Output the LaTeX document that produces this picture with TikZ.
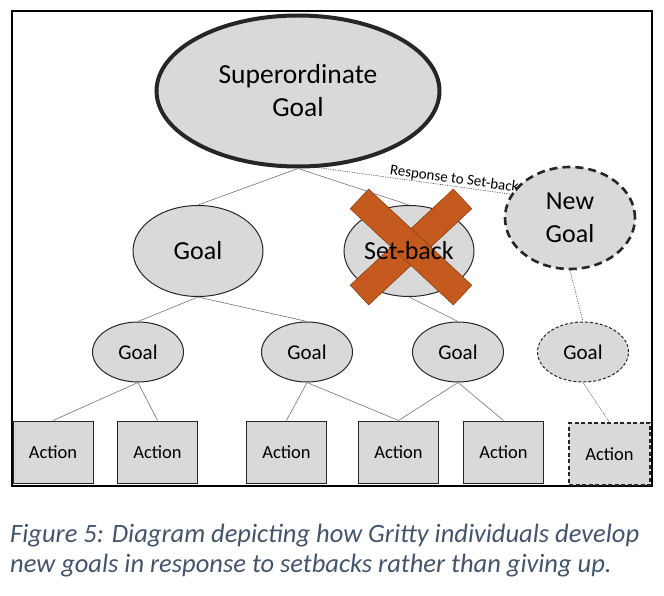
\documentclass[tikz,border=0pt]{standalone}
\usepackage{fontspec}
\setmainfont{Carlito}
\usetikzlibrary{shapes.geometric}
\definecolor{shapefill}{HTML}{D9D9D9}
\definecolor{crossfill}{HTML}{C55A1E}
\definecolor{crossedge}{HTML}{8E4014}
\definecolor{captext}{HTML}{44546A}
\tikzset{
  goal/.style={ellipse,draw=black!85,fill=shapefill,line width=1pt,inner sep=0pt},
  biggoal/.style={goal,minimum width=130,minimum height=91,font=\fontsize{26}{33}\selectfont},
  smallgoal/.style={goal,minimum width=91,minimum height=60,font=\fontsize{21}{24}\selectfont},
  newgoalstyle/.style={goal,line width=2.6pt,dash pattern=on 8pt off 5pt},
  ghostgoal/.style={smallgoal,dash pattern=on 3pt off 2pt},
  act/.style={rectangle,draw=black!85,fill=shapefill,line width=1pt,
    minimum width=80,minimum height=62,inner sep=0pt,font=\fontsize{18.5}{20}\selectfont},
  link/.style={draw=black!55,line width=0.6pt},
  dotlink/.style={draw=black!70,line width=0.6pt,dash pattern=on 1.2pt off 1.2pt},
  crossbar/.style={fill=crossfill,draw=crossedge,line width=0.6pt}
}
\begin{document}
\begin{tikzpicture}[x=1pt,y=-1pt]
  \useasboundingbox (0,0) rectangle (664,596);
  \draw[line width=1.5pt] (12,11) rectangle (652,486);
  % top goal
  \node[goal,line width=4pt,minimum width=283,minimum height=151,align=center,
    font=\fontsize{27.5}{33}\selectfont] (sup) at (298,91) {Superordinate\\Goal};
  % second level
  \node[biggoal] (goalL) at (198,251) {Goal};
  \node[biggoal] (setback) at (409,251) {};
  \node[newgoalstyle,minimum width=130,minimum height=102,align=center,
    font=\fontsize{26}{33}\selectfont] (newgoal) at (570,218) {New\\Goal};
  % third level
  \node[smallgoal] (g1) at (138,352) {Goal};
  \node[smallgoal] (g2) at (307,352) {Goal};
  \node[smallgoal] (g3) at (458,352) {Goal};
  \node[ghostgoal] (gn) at (583,352) {Goal};
  % actions
  \node[act] (a1) at (53,452) {Action};
  \node[act] (a2) at (157.5,452) {Action};
  \node[act] (a3) at (286.5,452) {Action};
  \node[act] (a4) at (398.5,452) {Action};
  \node[act] (a5) at (503.5,452) {Action};
  \node[act,minimum width=81,minimum height=62,line width=1.3pt,dash pattern=on 4pt off 2.5pt] (an) at (609.5,454) {Action};
  % cross over the set-back
  \draw[crossbar,rotate around={43:(411,247)}] (340.5,233.5) rectangle (481.5,260.5);
  \draw[crossbar,rotate around={-43:(411,247)}] (340.5,233.5) rectangle (481.5,260.5);
  \node[font=\fontsize{26}{33}\selectfont] (setbacktext) at (setback) {Set-back};
  % links
  \draw[link] (sup.south) -- (goalL.north);
  \draw[link] (sup.south) -- (setback.north);
  \draw[link] (goalL.south) -- (g1.north);
  \draw[link] (goalL.south) -- (g2.north);
  \draw[link] (setback.south) -- (g3.north);
  \draw[link] (g1.south) -- (a1.north);
  \draw[link] (g1.south) -- (a2.north);
  \draw[link] (g2.south) -- (a3.north);
  \draw[link] (g2.south) -- (a4.north);
  \draw[link] (g3.south) -- (a4.north);
  \draw[link] (g3.south) -- (a5.north);
  \draw[dotlink] (sup.-75) -- (newgoal.158)
    node[pos=0.7,above,sloped,inner sep=0.5pt,font=\fontsize{15}{17}\selectfont] {Response to Set-back};
  \draw[dotlink] (newgoal.south) -- (gn.north);
  \draw[dotlink] (gn.south) -- (an.north);
  % caption
  \node[anchor=base west,align=left,inner sep=0pt,text=captext,
    font=\itshape\fontsize{26.5}{30}\selectfont] (caption) at (10,572)
    {Figure 5: Diagram depicting how Gritty individuals develop\\new goals in response to setbacks rather than giving up.};
\end{tikzpicture}
\end{document}
